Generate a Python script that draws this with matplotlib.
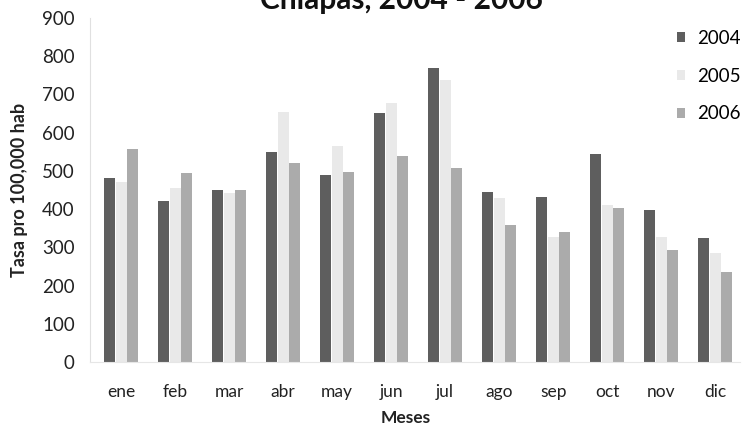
import matplotlib
matplotlib.use("Agg")
import matplotlib.pyplot as plt
import numpy as np

plt.rcParams["font.family"] = ["Lato", "DejaVu Sans"]

meses = ["ene", "feb", "mar", "abr", "may", "jun", "jul", "ago", "sep", "oct", "nov", "dic"]
anios = ["2004", "2005", "2006"]
tasa_2004 = [481, 422, 450, 549, 490, 651, 769, 446, 431, 544, 398, 324]
tasa_2005 = [472, 455, 443, 655, 564, 677, 738, 428, 328, 411, 328, 285]
tasa_2006 = [557, 494, 450, 520, 498, 539, 507, 359, 339, 402, 293, 236]
colores = ["#5e5e5e", "#e9e9e9", "#ababab"]

fig = plt.figure(figsize=(7.42, 4.30), dpi=100)
ax = fig.add_axes([90 / 742, 1 - 362 / 430, 650 / 742, 344 / 430])

x = np.arange(len(meses))
w = 0.21
barras = []
for i, (serie, color) in enumerate(zip([tasa_2004, tasa_2005, tasa_2006], colores)):
    b = ax.bar(x + (i - 1) * w, serie, width=w * 0.97, color=color, label=anios[i])
    barras.append(b)

ax.set_ylim(0, 900)
ax.set_yticks(range(0, 901, 100))
ax.set_xlim(-0.574, 11.46)
ax.set_xticks(x)
ax.set_xticklabels(meses)
ax.tick_params(axis="both", length=0, colors="#222222")
ax.tick_params(axis="x", pad=16, labelsize=12.5)
ax.tick_params(axis="y", pad=11, labelsize=13.5)

for s in ["top", "right"]:
    ax.spines[s].set_visible(False)
ax.spines["left"].set_color("#e0e0e0")
ax.spines["bottom"].set_color("#e6e6e6")

ax.set_ylabel("Tasa pro 100,000 hab", fontsize=13, fontweight="bold", color="#222222")
ax.yaxis.set_label_coords(-62 / 650, 0.5)
ax.set_xlabel("Meses", fontsize=12.5, fontweight="bold", color="#222222")
ax.xaxis.set_label_coords(0.485, -48 / 344)

fig.text(401 / 742, 1 - 9 / 430, "Chiapas, 2004 - 2006", ha="center", va="baseline",
         fontsize=21.5, fontweight="bold", color="#111111")

ax.legend(handles=barras, loc="upper left", bbox_to_anchor=(677 / 742, 1 - 30 / 430),
          bbox_transform=fig.transFigure, frameon=False, fontsize=13.5,
          handlelength=0.45, handleheight=0.45, handletextpad=0.6,
          labelspacing=1.1, borderpad=0, borderaxespad=0)

fig.savefig("out.png", dpi=100)
